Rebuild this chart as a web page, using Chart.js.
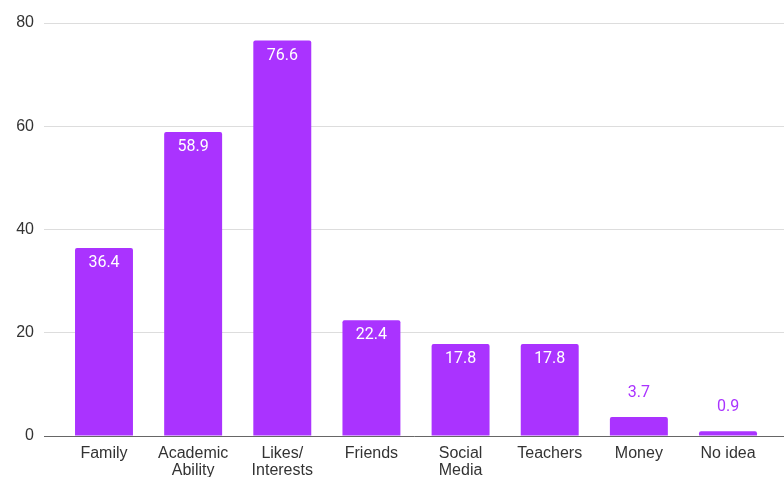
<!DOCTYPE html>
<html>
<head>
<meta charset="utf-8">
<script src="https://cdn.jsdelivr.net/npm/chart.js@4"></script>
<style>
  html, body { margin: 0; padding: 0; background: #fff; }
  #wrap { width: 784px; height: 477px; }
</style>
</head>
<body>
<div id="wrap"><canvas id="myChart" width="784" height="477"></canvas></div>
<script>
const categories = ['Family', ['Academic', 'Ability'], ['Likes/', 'Interests'], 'Friends', ['Social', 'Media'], 'Teachers', 'Money', 'No idea'];
const values = [36.4, 58.9, 76.6, 22.4, 17.8, 17.8, 3.7, 0.9];
const yTicks = [0, 20, 40, 60, 80];

const barColor = '#aa33ff';

const valueLabels = {
  id: 'valueLabels',
  afterDatasetsDraw(chart) {
    const ctx = chart.ctx;
    const meta = chart.getDatasetMeta(0);
    ctx.save();
    ctx.font = '16px Roboto, "Liberation Sans", sans-serif';
    ctx.textAlign = 'center';
    ctx.textBaseline = 'middle';
    meta.data.forEach((bar, i) => {
      const h = bar.base - bar.y;
      const txt = values[i].toFixed(1);
      if (h > 30) {
        ctx.fillStyle = '#ffffff';
        ctx.fillText(txt, bar.x, bar.y + 15);
      } else {
        ctx.fillStyle = barColor;
        ctx.fillText(txt, bar.x, bar.y - 24);
      }
    });
    ctx.restore();
  }
};

new Chart(document.getElementById('myChart').getContext('2d'), {
  type: 'bar',
  data: {
    datasets: [{
      data: values.map((v, i) => ({ x: i, y: v })),
      backgroundColor: barColor,
      borderRadius: 2,
      borderSkipped: 'bottom',
      barPercentage: 1,
      categoryPercentage: 0.65
    }]
  },
  options: {
    responsive: false,
    animation: false,
    layout: { padding: { top: 23, right: 0, left: 0, bottom: 0 } },
    plugins: { legend: { display: false }, tooltip: { enabled: false } },
    scales: {
      x: {
        type: 'linear',
        offset: false,
        min: -0.673,
        max: 7.628,
        afterFit: s => { s.height = 41; },
        grid: { display: false, drawTicks: false },
        border: { display: true, color: '#666666', width: 1 },
        ticks: {
          stepSize: 1,
          includeBounds: false,
          autoSkip: false,
          maxRotation: 0,
          padding: 9,
          color: '#333333',
          font: { family: '"Liberation Sans", Arial, sans-serif', size: 16, lineHeight: 1.05 },
          callback: v => (Number.isInteger(v) && categories[v] !== undefined) ? categories[v] : ''
        }
      },
      y: {
        min: 0,
        max: 80,
        afterFit: s => { s.width = 44; },
        afterBuildTicks: s => { s.ticks = yTicks.map(v => ({ value: v })); },
        grid: { color: '#dddddd', drawTicks: false },
        border: { display: false },
        ticks: {
          padding: 10,
          color: '#333333',
          font: { family: '"Liberation Sans", Arial, sans-serif', size: 16 }
        }
      }
    }
  },
  plugins: [valueLabels]
});
</script>
</body>
</html>
